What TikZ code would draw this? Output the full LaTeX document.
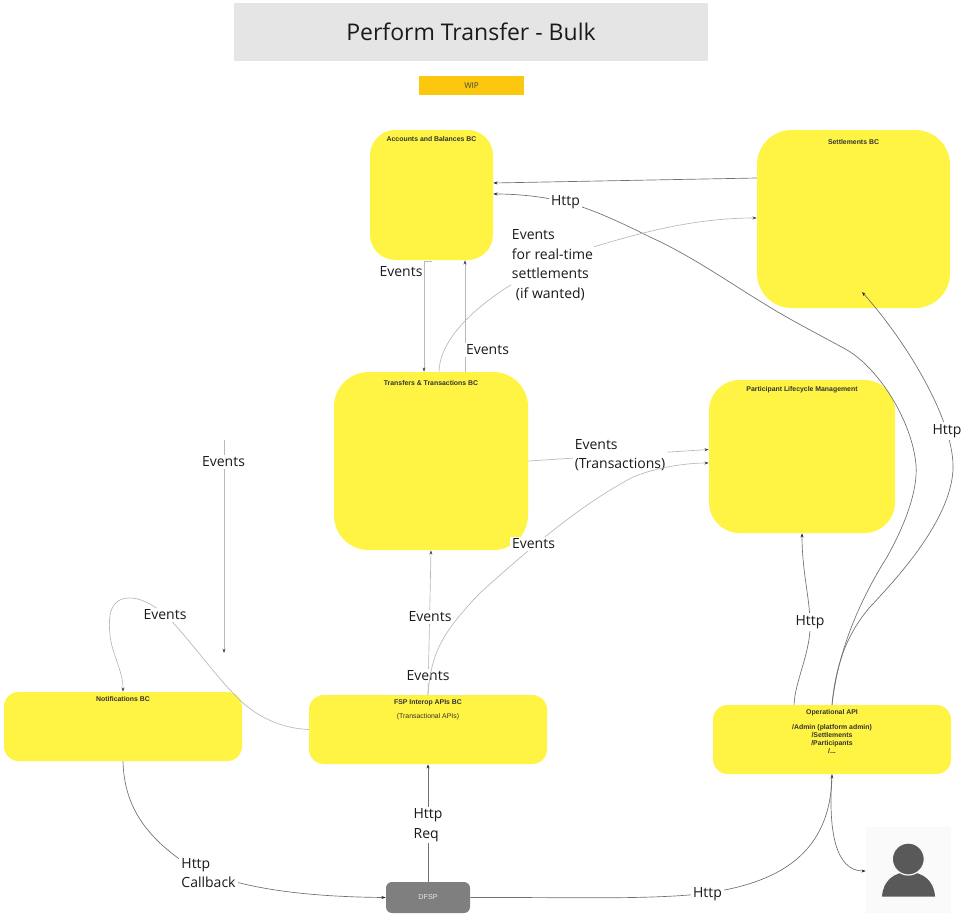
\documentclass[tikz,border=0pt]{standalone}
\usepackage{fontspec}
\setmainfont{Open Sans}
\newfontfamily\boxfont{Liberation Sans}
\usetikzlibrary{arrows.meta,calc}
\definecolor{bcyellow}{HTML}{FFF344}
\definecolor{titlegray}{HTML}{E5E5E5}
\definecolor{wipyellow}{HTML}{FCC80F}
\definecolor{dfspgray}{HTML}{7F7F7F}
\definecolor{usergray}{HTML}{595959}
\definecolor{evline}{HTML}{B8B8B8}
\definecolor{httpline}{HTML}{707070}
\definecolor{inktext}{HTML}{1A1A1A}
\tikzset{
  bcbox/.style={fill=bcyellow,draw=none,rectangle,inner sep=0pt},
  bctext/.style={anchor=north,font=\boxfont\bfseries\fontsize{5.17}{6}\selectfont,text=black!80,align=center,inner sep=0pt},
  evarrow/.style={draw=evline,line width=0.5pt,-{Stealth[length=3.2pt,width=2.2pt,color=black!75]}},
  htarrow/.style={draw=httpline,line width=0.5pt,-{Stealth[length=3.2pt,width=2.2pt,color=black!85]}},
  edgelabel/.style={font=\fontsize{10.5}{14.6}\selectfont,text=inktext,fill=white,inner sep=1.5pt,align=left},
}
\begin{document}
\begin{tikzpicture}[x=0.75pt,y=-0.75pt]
\useasboundingbox (0,0) rectangle (962,917);

% title and status
\node[rectangle,fill=titlegray,minimum width=355.5pt,minimum height=43.5pt,inner sep=0pt,font=\fontsize{17.25}{21}\selectfont,text=inktext] (title) at (471,32) {\raisebox{0.6pt}{Perform Transfer - Bulk}};
\node[rectangle,fill=wipyellow,minimum width=78.75pt,minimum height=14.25pt,inner sep=0pt,font=\fontsize{6}{7}\selectfont,text=black!75] (wip) at (471.5,85.5) {WIP};

% bounded contexts
\node[bcbox,rounded corners=19pt,minimum width=92.25pt,minimum height=97.5pt,label={[bctext,yshift=-4.8pt]north:Accounts and Balances BC}] (acc) at (431.5,195) {};
\node[bcbox,rounded corners=26pt,minimum width=144.75pt,minimum height=133.5pt,label={[bctext,yshift=-7pt]north:Settlements BC}] (set) at (853.5,219) {};
\node[bcbox,rounded corners=26pt,minimum width=145.5pt,minimum height=133.5pt,label={[bctext,yshift=-6pt]north:Transfers \& Transactions BC}] (tra) at (431,461) {};
\node[bcbox,rounded corners=23pt,minimum width=139.5pt,minimum height=114.75pt,label={[bctext,yshift=-5.2pt]north:Participant Lifecycle Management}] (par) at (802,456.5) {};
\node[bcbox,rounded corners=11pt,minimum width=178.5pt,minimum height=51.75pt,label={[bctext,yshift=-3.1pt]north:Notifications BC}] (not) at (123,726.5) {};
\node[bcbox,rounded corners=11pt,minimum width=178.5pt,minimum height=51.75pt,label={[bctext,yshift=-3.7pt]north:{FSP Interop APIs BC\\[4.6pt]\mdseries (Transactional APIs)}}] (fsp) at (428,729.5) {};
\node[bcbox,rounded corners=11pt,minimum width=178.5pt,minimum height=51.75pt,label={[bctext,yshift=-3.3pt]north:{Operational API\\[5.4pt]/Admin (platform admin)\\/Settlements\\/Participants\\/...}}] (ope) at (832,739.5) {};
\node[rectangle,fill=dfspgray,rounded corners=4.5pt,minimum width=63pt,minimum height=23.25pt,inner sep=0pt,font=\boxfont\fontsize{5.4}{6}\selectfont,text=white!90!black] (dfsp) at (428,897.5) {DFSP};

% user tile
\node[rectangle,fill=black!2,minimum width=63.75pt,minimum height=64.5pt,inner sep=0pt] (usr) at (908.5,870) {};
\fill[usergray] (882,896.5) .. controls (883,880) and (895,872) .. (908.5,872) .. controls (922,872) and (934,880) .. (935,896.5) -- cycle;
\fill[usergray,draw=black!2,line width=0.9pt] (908.3,859) circle[radius=16];

% connectors
\coordinate (freetop) at (224,440);
\coordinate (freebot) at (224,653);
\coordinate (setin) at (862,292);

\draw[htarrow] ($(set.west)+(0,-41)$) -- ($(acc.east)+(0,-12)$);
\draw[htarrow] ($(ope.north)+(0,0)$) .. controls (838,650) and (860,600) .. (887,557) .. controls (905,525) and (918,490) .. (916,465) .. controls (912,420) and (878,368) .. (847,350) .. controls (820,335) and (790,320) .. (763,303) .. controls (730,283) and (690,255) .. (650,237) .. controls (620,222) and (590,208) .. (565,202) .. controls (545,197) and (520,194) .. ($(acc.east)+(0,-1)$);
\draw[htarrow] (ope.north) .. controls (836,660) and (850,630) .. (870,607) .. controls (900,575) and (950,520) .. (953,470) .. controls (955,420) and (905,340) .. (setin);
\draw[htarrow] ($(ope.north)+(-38,0)$) .. controls (795,680) and (812,650) .. (810,620) .. controls (809,595) and (802,570) .. ($(par.south)+(0,0)$);
\draw[evarrow] ($(tra.east)+(0,0)$) -- ($(par.west)+(0,-7)$);
\draw[evarrow] ($(acc.south)+(0,1)$) -| ($(tra.north)+(-7,0)$);
\draw[evarrow] ($(tra.north)+(34,0)$) -- ($(acc.south)+(33.5,0)$);
\draw[evarrow] ($(tra.north)+(8,0)$) .. controls (440,320) and (530,265) .. (600,245) .. controls (650,230) and (700,218) .. ($(set.west)+(0,-1)$);
\draw[evarrow] (freetop) -- (freebot);
\draw[evarrow] ($(fsp.north)+(0,0)$) -- (tra.south);
\draw[evarrow] (fsp.west) .. controls (275,728) and (250,712) .. (233,693) .. controls (215,675) and (190,640) .. (165,614) .. controls (150,603) and (140,598) .. (130,598) .. controls (110,598) and (108,615) .. (110,635) .. controls (112,655) and (123,670) .. (not.north);
\draw[htarrow] (not.south) .. controls (124,800) and (140,830) .. (178,858) .. controls (200,873) and (225,880) .. (240,883) .. controls (280,893) and (330,897) .. (dfsp.west);
\draw[htarrow] (dfsp.north) -- (fsp.south);
\draw[htarrow] (dfsp.east) .. controls (560,897) and (640,900) .. (700,894) .. controls (770,885) and (830,860) .. (ope.south);
\draw[htarrow] (ope.south) .. controls (828,830) and (835,871) .. ($(usr.west)+(0,1)$);

% labels on connectors
\node[edgelabel] (lb1) at (565.5,202) {Http};
\node[edgelabel] (lb2) at (401,272) {Events};
\node[edgelabel] (lb3) at (487.5,350) {Events};
\node[edgelabel,inner sep=1pt] (lb4) at (552.5,265) {Events\\for real-time\\settlements\\\hspace*{3pt}(if wanted)};
\node[edgelabel] (lb5) at (620,455) {Events\\(Transactions)};
\node[edgelabel] (lb7) at (223.5,462) {Events};
\node[edgelabel] (lb8) at (165,615) {Events};
\node[edgelabel] (lb9) at (430,617) {Events};
\node[edgelabel] (lb10) at (428,676) {Events};
\node[edgelabel] (lb11) at (428,825) {Http\\Req};
\node[edgelabel] (lb12) at (208.5,873) {Http\\Callback};
\node[edgelabel] (lb13) at (707.5,894) {Http};
\node[edgelabel] (lb14) at (810,622) {Http};
\node[edgelabel] (lb15) at (947,431) {Http};

% interop to participant runs over the labels near the API box
\draw[evarrow] (fsp.north) .. controls (431,650) and (445,630) .. (480,593) .. controls (530,548) and (580,505) .. (633,477) .. controls (660,466) and (690,463) .. ($(par.west)+(0,6.5)$);
\node[edgelabel] (lb6) at (533.5,544) {Events};
\end{tikzpicture}
\end{document}
